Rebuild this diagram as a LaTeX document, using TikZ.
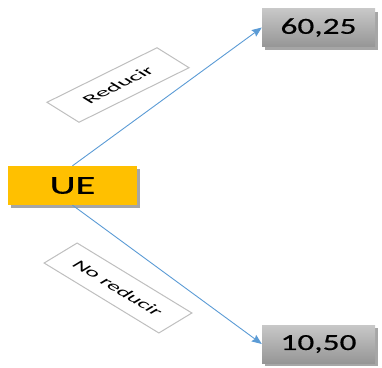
\documentclass[tikz,border=0pt]{standalone}
\usepackage{fontspec}
\setmainfont{Carlito}
\newfontfamily\heavyfont[FakeBold=0.4]{Carlito}
\usetikzlibrary{arrows.meta,shadows}
\definecolor{uegold}{RGB}{255,192,0}
\definecolor{linkblue}{RGB}{91,155,213}
\definecolor{labgray}{RGB}{191,191,191}
\definecolor{boxtop}{RGB}{200,200,200}
\definecolor{boxbot}{RGB}{150,150,150}
\tikzset{
  mainbox/.style={minimum width=129pt, minimum height=39pt, inner sep=0pt,
    drop shadow={shadow xshift=3pt, shadow yshift=-3pt, fill=black, opacity=0.35}},
  valbox/.style={minimum width=113pt, minimum height=38pt, inner sep=0pt,
    top color=boxtop, bottom color=boxbot,
    drop shadow={shadow xshift=3pt, shadow yshift=-3pt, fill=black, opacity=0.35}},
  labbox/.style={draw=labgray, line width=1pt, fill=white, inner sep=0pt, transform shape,
    font=\fontsize{16.5}{18}\selectfont},
  link/.style={draw=linkblue, line width=0.9pt, -{Stealth[length=10pt,width=8pt,inset=1.5pt]}}
}
\begin{document}
\begin{tikzpicture}[x=1pt,y=-1pt]
\useasboundingbox (0,0) rectangle (382,367);
\node[mainbox, fill=uegold] (ue) at (72.5,185.5) {\heavyfont\fontsize{26}{30}\selectfont\scalebox{1.55}[1]{UE}};
\node[valbox] (top) at (318.5,27.5) {\heavyfont\fontsize{23}{27}\selectfont\scalebox{1.45}[1]{60,25}};
\node[valbox] (bot) at (318.5,344) {\heavyfont\fontsize{23}{27}\selectfont\scalebox{1.45}[1]{10,50}};
\begin{scope}[shift={(118,85)}, cm={1.299,0.644,-0.849,0.530,(0,0)}]
  \node[labbox, minimum width=84.7pt, minimum height=37.7pt] (lr) at (0,0) {Reducir};
\end{scope}
\begin{scope}[shift={(118,288)}, cm={1.194,-0.728,0.855,0.518,(0,0)}]
  \node[labbox, minimum width=96.1pt, minimum height=38.6pt] (lnr) at (0,0) {No reducir};
\end{scope}
\draw[link] (ue.north) -- (top.west);
\draw[link] (ue.south) -- (bot.west);
\end{tikzpicture}
\end{document}
